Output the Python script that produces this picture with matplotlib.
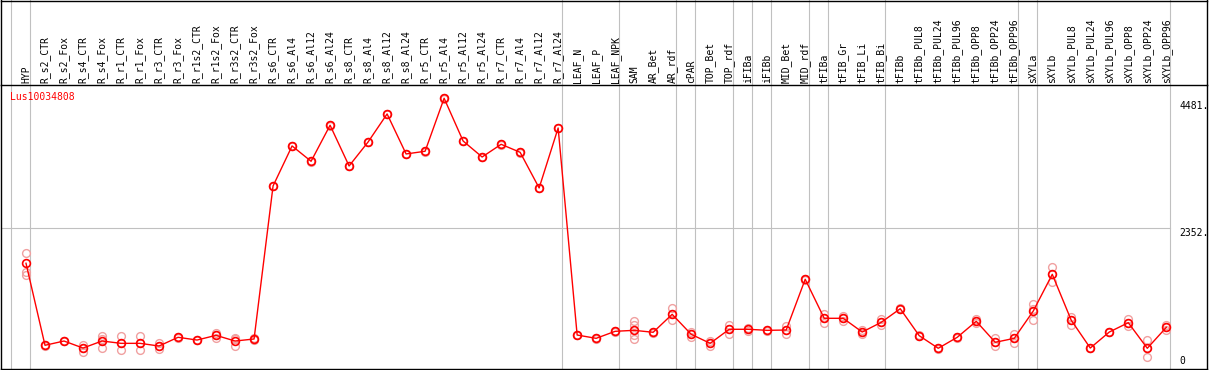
import matplotlib
matplotlib.use("Agg")
import matplotlib.pyplot as plt
from matplotlib.transforms import blended_transform_factory

title = "Lus10034808"
categories = ["HYP", "R_s2_CTR", "R_s2_Fox", "R_s4_CTR", "R_s4_Fox", "R_r1_CTR", "R_r1_Fox",
              "R_r3_CTR", "R_r3_Fox", "R_r1s2_CTR", "R_r1s2_Fox", "R_r3s2_CTR", "R_r3s2_Fox",
              "R_s6_CTR", "R_s6_Al4", "R_s6_Al12", "R_s6_Al24", "R_s8_CTR", "R_s8_Al4",
              "R_s8_Al12", "R_s8_Al24", "R_r5_CTR", "R_r5_Al4", "R_r5_Al12", "R_r5_Al24",
              "R_r7_CTR", "R_r7_Al4", "R_r7_Al12", "R_r7_Al24", "LEAF_N", "LEAF_P", "LEAF_NPK",
              "SAM", "AR_Bet", "AR_rdf", "cPAR", "TOP_Bet", "TOP_rdf", "iFIBa", "iFIBb",
              "MID_Bet", "MID_rdf", "tFIBa", "tFIB_Gr", "tFIB_Li", "tFIB_Bi", "tFIBb",
              "tFIBb_PUL8", "tFIBb_PUL24", "tFIBb_PUL96", "tFIBb_OPP8", "tFIBb_OPP24",
              "tFIBb_OPP96", "sXYLa", "sXYLb", "sXYLb_PUL8", "sXYLb_PUL24", "sXYLb_PUL96",
              "sXYLb_OPP8", "sXYLb_OPP24", "sXYLb_OPP96"]

mean_values = [1779, 436, 506, 391, 506, 468, 468, 424, 567, 522, 599, 506, 539,
               3045, 3700, 3449, 4039, 3372, 3765, 4224, 3569, 3613, 4481, 3781, 3519,
               3727, 3596, 3012, 3994, 604, 550, 665, 681, 649, 943, 616, 468, 698, 698,
               681, 686, 1517, 878, 878, 653, 812, 1035, 593, 387, 567, 829, 485, 550,
               997, 1598, 845, 391, 653, 806, 387, 730]

replicates = [[1952, 1641, 1587], [436, 430, 442], [506, 500, 512], [445, 331, 391],
              [583, 396, 539], [583, 354, 468], [583, 354, 468], [468, 375, 424],
              [560, 575, 567], [522, 515, 528], [637, 562, 599], [424, 555, 539],
              [539, 530, 548],
              [3045, 3040, 3050], [3700, 3695, 3705], [3449, 3444, 3454], [4039, 4034, 4044],
              [3372, 3367, 3377], [3765, 3760, 3770], [4224, 4219, 4229], [3569, 3564, 3574],
              [3613, 3608, 3618], [4481, 4476, 4486], [3781, 3776, 3786], [3519, 3514, 3524],
              [3727, 3722, 3732], [3596, 3591, 3601], [3012, 3007, 3017], [3994, 3989, 3999],
              [604, 598, 610], [550, 545, 556], [665, 660, 670],
              [829, 776, 604, 534], [649, 644, 654], [1042, 850, 943], [653, 572, 616],
              [506, 424, 468], [768, 621, 698], [727, 670, 698], [681, 676, 686],
              [616, 752, 686], [1517, 1510, 1524], [948, 806, 878], [915, 834, 878],
              [686, 621, 653], [868, 768, 812], [1035, 1028, 1042], [593, 588, 598],
              [387, 382, 392], [567, 562, 572], [868, 801, 829], [550, 424, 485],
              [621, 478, 550], [1112, 850, 1030], [1713, 1477, 1598], [904, 773, 845],
              [391, 386, 396], [653, 648, 658], [868, 752, 806], [518, 249, 387],
              [768, 694, 730]]

group_edges = [-1, 0, 28, 31, 34, 35, 37, 38, 39, 41, 42, 45, 52, 53, 60]
ref_ticks = [4481, 2352]
ref_tick_labels = ["4481.", "2352."]

W, H = 1209, 370
fig = plt.figure(figsize=(W / 100, H / 100), dpi=100)

left_px, right_px = 1.0, 1207.0
bottom_px, header_px = 368.5, 85.0
x0_px, step_px = 26.0, 19.005

ax = fig.add_axes([left_px / W, (H - bottom_px) / H,
                   (right_px - left_px) / W, (bottom_px - header_px) / H])
ax.set_xlim((left_px - x0_px) / step_px, (right_px - x0_px) / step_px)
ax.set_ylim(56, 4698)
ax.set_xticks([])
ax.set_yticks([])
for s in ax.spines.values():
    s.set_color("black")
    s.set_linewidth(1.0)

mono = "DejaVu Sans Mono"
blend = blended_transform_factory(ax.transData, fig.transFigure)
xs = list(range(len(categories)))
off = 0.22

# group separator lines (full height including header)
for g in group_edges:
    ax.plot([g + off, g + off], [0, 1], color="#c0c0c0", lw=0.8,
            transform=blend, clip_on=False, zorder=1)

# reference horizontal line
ax.plot([ax.get_xlim()[0], 60 + off], [ref_ticks[1], ref_ticks[1]],
        color="#c0c0c0", lw=0.8, zorder=1)

# header outline
fig.add_artist(plt.Line2D([left_px / W, right_px / W], [1 - 0.5 / H, 1 - 0.5 / H],
                          color="black", lw=1.0, transform=fig.transFigure))
fig.add_artist(plt.Line2D([left_px / W, left_px / W], [(H - header_px) / H, 1],
                          color="black", lw=1.0, transform=fig.transFigure))
fig.add_artist(plt.Line2D([right_px / W, right_px / W], [(H - header_px) / H, 1],
                          color="black", lw=1.0, transform=fig.transFigure))

# column labels
for i, c in enumerate(categories):
    ax.text(i, (H - 83) / H, c, rotation=90, ha="center", va="bottom",
            fontsize=7, family=mono, transform=blend)

# replicates
for i, reps in enumerate(replicates):
    ax.plot([i] * len(reps), reps, linestyle="none", marker="o", ms=5.6,
            mfc="none", mec="#f0a0a0", mew=1.0, zorder=2)

# main line
ax.plot(xs, mean_values, color="red", lw=1.0, marker="o", ms=5.6,
        mfc="none", mec="red", mew=1.2, zorder=3)

# title
ax.text((10 - x0_px) / step_px, (H - 92) / H, title, color="red", fontsize=7,
        family=mono, ha="left", va="top", transform=blend)

# right value labels
xl = (1179 - x0_px) / step_px
label_shift = [40, 0]
for v, lab, sh in zip(ref_ticks, ref_tick_labels, label_shift):
    t = ax.text(xl, v, lab, fontsize=7, family=mono, ha="left", va="top",
                transform=ax.transData, clip_on=False)
    t.set_y(v - sh)
ax.text(xl, (H - 366) / H, "0", fontsize=7, family=mono, ha="left", va="bottom",
        transform=blend)

fig.savefig("out.png", dpi=100)
